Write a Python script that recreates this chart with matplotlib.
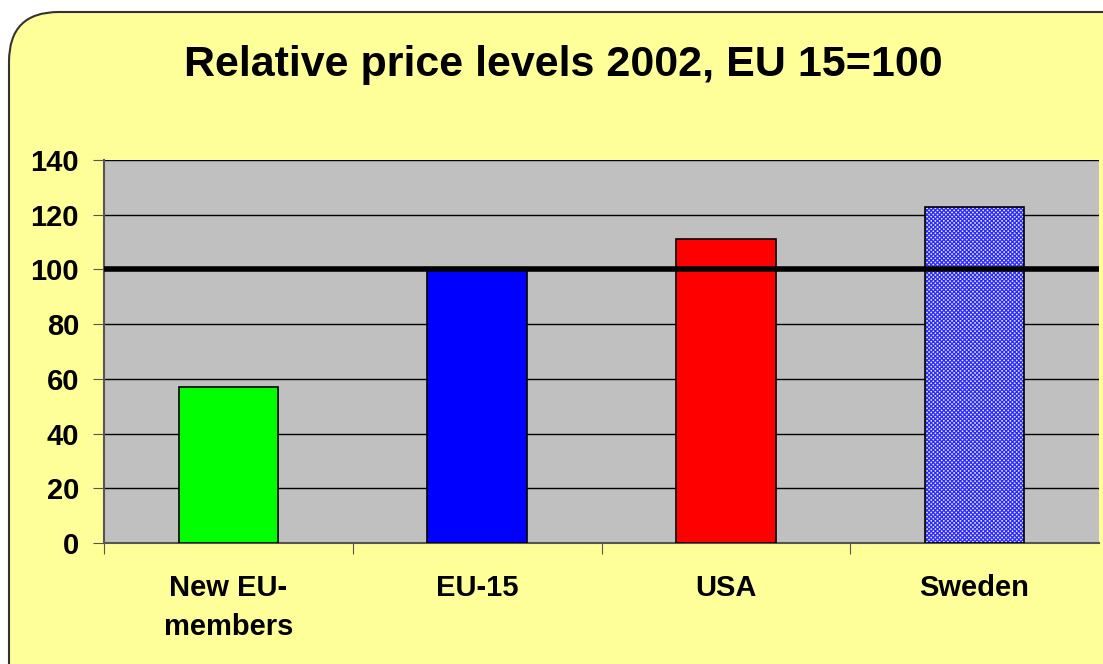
import matplotlib
matplotlib.use("Agg")
import matplotlib.pyplot as plt
from matplotlib.patches import FancyBboxPatch

plt.rcParams['font.family'] = ['Liberation Sans', 'DejaVu Sans']
plt.rcParams['hatch.linewidth'] = 0.9

# price levels, EU 15 = 100
countries = ['New EU-\nmembers', 'EU-15', 'USA', 'Sweden']
price_level = [57, 100, 111, 123]
colors = ['#00ff00', '#0000ff', '#ff0000', '#ccccff']
reference = 100
yticks = [0, 20, 40, 60, 80, 100, 120, 140]

W, H = 1103, 664
fig = plt.figure(figsize=(W / 100, H / 100), dpi=100)
fig.patch.set_facecolor('white')

# rounded yellow background box, kept behind the axes
bg = FancyBboxPatch((9 / W, -0.1), 1.2, (H - 12) / H + 0.1,
                    boxstyle="round,pad=0,rounding_size=0.045",
                    transform=fig.transFigure, facecolor='#ffff99',
                    edgecolor='#333333', linewidth=1.5, mutation_aspect=W / H,
                    zorder=-5)
fig.patches.append(bg)

ax = fig.add_axes([104 / W, (H - 543) / H, (1099 - 104) / W, 383 / H])
ax.set_facecolor('#c0c0c0')

x = range(len(countries))
for i, (v, c) in enumerate(zip(price_level, colors)):
    if countries[i] == 'Sweden':
        ax.bar(i, v, width=0.4, color='#e8e8ff', edgecolor='#2a2aff',
               hatch='xxxxxxxx', linewidth=0, zorder=3)
        ax.bar(i, v, width=0.4, color='none', edgecolor='black',
               linewidth=1.2, zorder=4)
    else:
        ax.bar(i, v, width=0.4, color=c, edgecolor='black',
               linewidth=1.2, zorder=3)

ax.axhline(reference, color='black', linewidth=4, zorder=5)

ax.set_xlim(-0.5, len(countries) - 0.5)
ax.set_ylim(0, 140)
ax.set_yticks(yticks)
ax.yaxis.grid(True, color='black', linewidth=1)
ax.set_axisbelow(True)

ax.set_xticks([i - 0.5 for i in x], minor=False)
ax.set_xticklabels([])
ax.set_xticks(list(x), minor=True)
ax.set_xticklabels(countries, minor=True, fontsize=21, fontweight='bold',
                   linespacing=1.5, va='top')
ax.tick_params(axis='x', which='minor', length=0, pad=22)
ax.tick_params(axis='x', which='major', length=8, direction='out',
               color='#555555')
ax.tick_params(axis='y', length=8, color='#555555', labelsize=21, pad=10)
for lab in ax.get_yticklabels():
    lab.set_fontweight('bold')

for s in ['top', 'right']:
    ax.spines[s].set_visible(False)
ax.spines['left'].set_color('#555555')
ax.spines['bottom'].set_color('#555555')
ax.spines['left'].set_linewidth(1.5)
ax.spines['bottom'].set_linewidth(1.5)

fig.text(563 / W, 1 - 65 / H, 'Relative price levels 2002, EU 15=100',
         ha='center', va='center', fontsize=31, fontweight='bold')

fig.savefig('out.png', dpi=100, facecolor=fig.get_facecolor())
